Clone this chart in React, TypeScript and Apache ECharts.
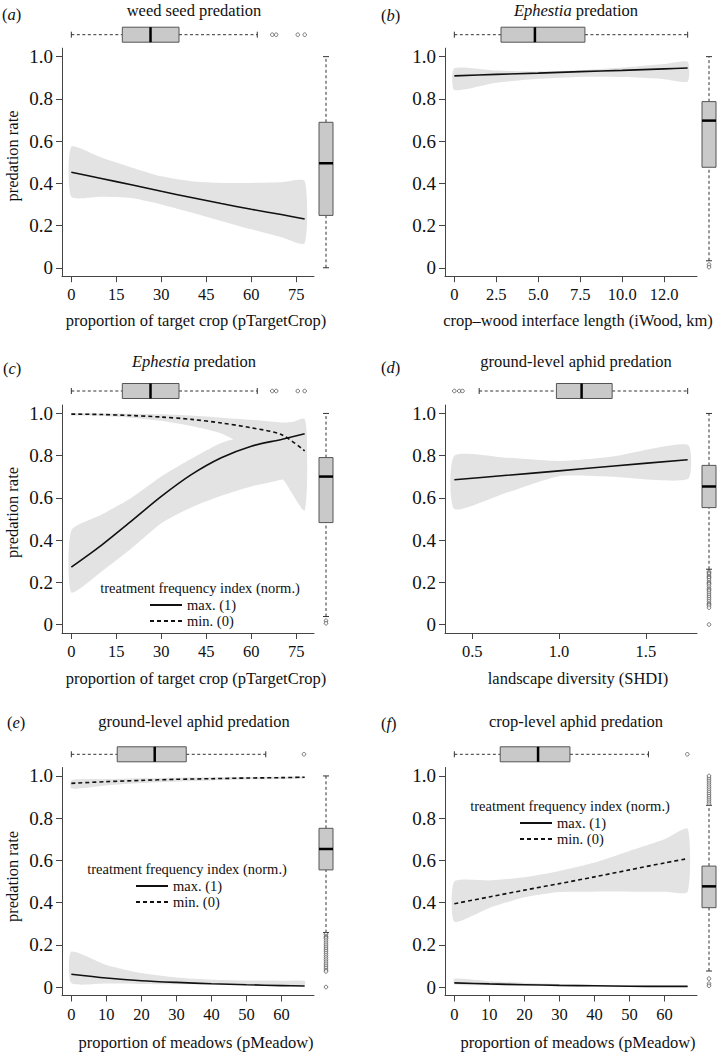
import React, { useEffect, useRef } from "react";
import * as echarts from "echarts";

const FONT = "'Liberation Serif', 'DejaVu Serif', 'Times New Roman', serif";

// ---------- shared y axis ----------
const yTicks = [0, 0.2, 0.4, 0.6, 0.8, 1.0];
const yTickLabels = ["0", "0.2", "0.4", "0.6", "0.8", "1.0"];
const yDataRange: [number, number] = [0, 1];

// ---------- panel a : weed seed predation ----------
const aTicks = [0, 15, 30, 45, 60, 75];
const aTickLabels = ["0", "15", "30", "45", "60", "75"];
const aX = [0, 10, 20, 30, 40, 50, 60, 70, 77.8];
const aFit = [0.452, 0.423, 0.393, 0.362, 0.333, 0.304, 0.277, 0.252, 0.231];
const aUpper = [0.573, 0.522, 0.475, 0.433, 0.41, 0.402, 0.402, 0.405, 0.411];
const aLower = [0.336, 0.336, 0.33, 0.3, 0.262, 0.222, 0.182, 0.145, 0.116];
const aTopBox = [0, 17, 26.4, 35.9, 62];
const aTopOut = [67, 68.3, 75.5, 77.8];
const aRightBox = [0, 0.248, 0.495, 0.689, 1.0];
const aRightOut: number[] = [];

// ---------- panel b : Ephestia predation vs iWood ----------
const bTicks = [0, 2.5, 5, 7.5, 10, 12.5];
const bTickLabels = ["0", "2.5", "5.0", "7.5", "10.0", "12.0"];
const bX = [0, 2.5, 5, 7.5, 10, 12.5, 13.9];
const bFit = [0.909, 0.916, 0.922, 0.929, 0.935, 0.942, 0.946];
const bUpper = [0.945, 0.934, 0.93, 0.935, 0.948, 0.965, 0.976];
const bLower = [0.842, 0.876, 0.895, 0.904, 0.903, 0.893, 0.882];
const bTopBox = [0, 2.78, 4.8, 7.78, 13.9];
const bTopOut: number[] = [];
const bRightBox = [0.033, 0.476, 0.697, 0.787, 1.0];
const bRightOut = [0.015, 0.003];

// ---------- panel c : Ephestia predation vs pTargetCrop ----------
const cX = [0, 10, 20, 30, 40, 50, 60, 70, 77.8];
const cFitMax = [0.272, 0.375, 0.49, 0.607, 0.71, 0.79, 0.845, 0.877, 0.904];
const cMaxUpper = [0.446, 0.52, 0.6, 0.701, 0.785, 0.86, 0.9, 0.935, 0.973];
const cMaxLower = [0.152, 0.25, 0.36, 0.48, 0.555, 0.61, 0.654, 0.686, 0.72];
const cFitMin = [0.997, 0.995, 0.99, 0.983, 0.972, 0.955, 0.932, 0.9, 0.823];
const cMinUpper = [1.0, 1.0, 0.999, 0.996, 0.99, 0.98, 0.97, 0.957, 0.95];
const cMinLower = [0.99, 0.988, 0.98, 0.965, 0.94, 0.905, 0.83, 0.7, 0.54];
const cTopBox = [0, 17, 26.4, 35.9, 62];
const cTopOut = [67, 68.3, 75.5, 77.8];
const cRightBox = [0.038, 0.483, 0.701, 0.791, 1.0];
const cRightOut = [0.018, 0.006];

// ---------- panel d : ground-level aphid predation vs SHDI ----------
const dTicks = [0.5, 1.0, 1.5];
const dTickLabels = ["0.5", "1.0", "1.5"];
const dX = [0.397, 0.7, 1.0, 1.3, 1.741];
const dFit = [0.686, 0.707, 0.728, 0.75, 0.781];
const dUpper = [0.8, 0.79, 0.775, 0.795, 0.852];
const dLower = [0.547, 0.625, 0.703, 0.7, 0.689];
const dTopBox = [0.54, 0.985, 1.13, 1.306, 1.741];
const dTopOut = [0.397, 0.425, 0.444];
const dRightBox = [0.262, 0.554, 0.654, 0.754, 1.0];
const dRightOut = [0.25, 0.245, 0.24, 0.23, 0.225, 0.22, 0.21, 0.2, 0.195, 0.19, 0.18, 0.17, 0.165, 0.16, 0.15, 0.14, 0.13, 0.12, 0.11, 0.1, 0.095, 0.09, 0.08, 0];

// ---------- panel e : ground-level aphid predation vs pMeadow ----------
const meadowTicks = [0, 10, 20, 30, 40, 50, 60];
const meadowTickLabels = ["0", "10", "20", "30", "40", "50", "60"];
const eX = [0, 10, 20, 30, 40, 50, 60, 66.6];
const eFitMax = [0.061, 0.043, 0.03, 0.022, 0.016, 0.011, 0.007, 0.005];
const eMaxUpper = [0.168, 0.105, 0.066, 0.045, 0.035, 0.031, 0.03, 0.03];
const eMaxLower = [0.019, 0.017, 0.015, 0.013, 0.012, 0.011, 0.01, 0.01];
const eFitMin = [0.965, 0.973, 0.979, 0.984, 0.987, 0.99, 0.992, 0.994];
const eMinUpper = [0.98, 0.985, 0.989, 0.992, 0.994, 0.995, 0.996, 0.997];
const eMinLower = [0.94, 0.955, 0.966, 0.974, 0.979, 0.983, 0.986, 0.988];
const eTopBox = [0, 13.1, 23.8, 32.8, 55.5];
const eTopOut = [66.4];
const eRightBox = [0.258, 0.555, 0.654, 0.752, 1.0];
const eRightOut = [0.25, 0.24, 0.235, 0.23, 0.22, 0.21, 0.2, 0.19, 0.18, 0.17, 0.16, 0.15, 0.14, 0.13, 0.12, 0.11, 0.1, 0.09, 0.08, 0.074, 0];

// ---------- panel f : crop-level aphid predation vs pMeadow ----------
const fX = [0, 10, 20, 30, 40, 50, 60, 66.6];
const fFitMax = [0.02, 0.015, 0.011, 0.008, 0.006, 0.004, 0.003, 0.003];
const fMaxUpper = [0.04, 0.028, 0.02, 0.014, 0.01, 0.008, 0.006, 0.005];
const fMaxLower = [0.012, 0.009, 0.007, 0.005, 0.004, 0.003, 0.002, 0.002];
const fFitMin = [0.395, 0.427, 0.459, 0.49, 0.522, 0.555, 0.588, 0.608];
const fMinUpper = [0.5, 0.505, 0.52, 0.55, 0.59, 0.645, 0.7, 0.75];
const fMinLower = [0.31, 0.375, 0.425, 0.45, 0.452, 0.452, 0.452, 0.452];
const fTopBox = [0, 13.1, 23.9, 33, 55.4];
const fTopOut = [66.5];
const fRightBox = [0.076, 0.376, 0.477, 0.573, 0.861];
const fRightOut = [0.87, 0.88, 0.89, 0.9, 0.91, 0.92, 0.93, 0.94, 0.95, 0.96, 0.97, 0.98, 0.99, 1.0, 0.04, 0.016, 0.006];

const legendNames = ["max. (1)", "min. (0)"];
const legendTitle = "treatment frequency index (norm.)";

// ---------- layout ----------
const COL_LEFT = [62, 445];
const PLOT_W = 252;
const ROW_TOP = [48.2, 405, 767.5];
const PLOT_H = 228;
const TOPBOX_Y = [34.7, 391, 754.3];
const RIGHTBOX_X = [326, 709];
const TITLE_Y = [10, 361, 721];
const TITLE_X = [194, 576];
const XTITLE_Y = [320, 678, 1042];
const XTITLE_X = [196, 578];
const YTITLE_Y = [156, 512.5, 876.5];

const BAND = "#e3e3e3";
const BOXFILL = "#c9c9c9";
const AXIS = "#444";
const INK = "#111";

type Curve = { name: string; x: number[]; fit: number[]; upper: number[]; lower: number[]; dashed: boolean };
type Panel = {
  letter: string; letterX: number; letterY: number;
  title: string; col: number; row: number;
  xRange: [number, number]; xTicks: number[]; xTickLabels: string[]; xTitle: string;
  curves: Curve[];
  topBox: number[]; topOut: number[]; rightBox: number[]; rightOut: number[];
  legend?: { x: number; y: number; left: number };
};

const panels: Panel[] = [
  {
    letter: "a", letterX: 2, letterY: 14, title: "weed seed predation", col: 0, row: 0,
    xRange: [0, 77.8], xTicks: aTicks, xTickLabels: aTickLabels, xTitle: "proportion of target crop (pTargetCrop)",
    curves: [{ name: "weed", x: aX, fit: aFit, upper: aUpper, lower: aLower, dashed: false }],
    topBox: aTopBox, topOut: aTopOut, rightBox: aRightBox, rightOut: aRightOut,
  },
  {
    letter: "b", letterX: 381, letterY: 15, title: "{i|Ephestia} predation", col: 1, row: 0,
    xRange: [0, 13.9], xTicks: bTicks, xTickLabels: bTickLabels, xTitle: "crop\u2013wood interface length (iWood, km)",
    curves: [{ name: "ephestiaWood", x: bX, fit: bFit, upper: bUpper, lower: bLower, dashed: false }],
    topBox: bTopBox, topOut: bTopOut, rightBox: bRightBox, rightOut: bRightOut,
  },
  {
    letter: "c", letterX: 3, letterY: 368, title: "{i|Ephestia} predation", col: 0, row: 1,
    xRange: [0, 77.8], xTicks: aTicks, xTickLabels: aTickLabels, xTitle: "proportion of target crop (pTargetCrop)",
    curves: [
      { name: legendNames[0], x: cX, fit: cFitMax, upper: cMaxUpper, lower: cMaxLower, dashed: false },
      { name: legendNames[1], x: cX, fit: cFitMin, upper: cMinUpper, lower: cMinLower, dashed: true },
    ],
    topBox: cTopBox, topOut: cTopOut, rightBox: cRightBox, rightOut: cRightOut,
    legend: { x: 200, y: 588, left: 149 },
  },
  {
    letter: "d", letterX: 381, letterY: 367, title: "ground-level aphid predation", col: 1, row: 1,
    xRange: [0.397, 1.741], xTicks: dTicks, xTickLabels: dTickLabels, xTitle: "landscape diversity (SHDI)",
    curves: [{ name: "groundShdi", x: dX, fit: dFit, upper: dUpper, lower: dLower, dashed: false }],
    topBox: dTopBox, topOut: dTopOut, rightBox: dRightBox, rightOut: dRightOut,
  },
  {
    letter: "e", letterX: 7, letterY: 722, title: "ground-level aphid predation", col: 0, row: 2,
    xRange: [0, 66.6], xTicks: meadowTicks, xTickLabels: meadowTickLabels, xTitle: "proportion of meadows (pMeadow)",
    curves: [
      { name: legendNames[0], x: eX, fit: eFitMax, upper: eMaxUpper, lower: eMaxLower, dashed: false },
      { name: legendNames[1], x: eX, fit: eFitMin, upper: eMinUpper, lower: eMinLower, dashed: true },
    ],
    topBox: eTopBox, topOut: eTopOut, rightBox: eRightBox, rightOut: eRightOut,
    legend: { x: 187, y: 869, left: 135 },
  },
  {
    letter: "f", letterX: 381, letterY: 723, title: "crop-level aphid predation", col: 1, row: 2,
    xRange: [0, 66.6], xTicks: meadowTicks, xTickLabels: meadowTickLabels, xTitle: "proportion of meadows (pMeadow)",
    curves: [
      { name: legendNames[0], x: fX, fit: fFitMax, upper: fMaxUpper, lower: fMaxLower, dashed: false },
      { name: legendNames[1], x: fX, fit: fFitMin, upper: fMinUpper, lower: fMinLower, dashed: true },
    ],
    topBox: fTopBox, topOut: fTopOut, rightBox: fRightBox, rightOut: fRightOut,
    legend: { x: 570, y: 806, left: 519 },
  },
];

const WHISKER = { stroke: "#333", lineWidth: 1, lineDash: [3, 2.5] };
const CAP = { stroke: "#333", lineWidth: 1 };

function hBox(api: any, s: number[]) {
  const yc = api.coord([s[2], 0.5])[1];
  const px = (v: number) => api.coord([v, 0.5])[0];
  const h = 7.5, c = 3;
  return {
    type: "group",
    children: [
      { type: "line", shape: { x1: px(s[0]), y1: yc, x2: px(s[1]), y2: yc }, style: WHISKER },
      { type: "line", shape: { x1: px(s[3]), y1: yc, x2: px(s[4]), y2: yc }, style: WHISKER },
      { type: "line", shape: { x1: px(s[0]), y1: yc - c, x2: px(s[0]), y2: yc + c }, style: CAP },
      { type: "line", shape: { x1: px(s[4]), y1: yc - c, x2: px(s[4]), y2: yc + c }, style: CAP },
      { type: "rect", shape: { x: px(s[1]), y: yc - h, width: px(s[3]) - px(s[1]), height: 2 * h }, style: { fill: BOXFILL, stroke: "#555", lineWidth: 1 } },
      { type: "line", shape: { x1: px(s[2]), y1: yc - h, x2: px(s[2]), y2: yc + h }, style: { stroke: "#000", lineWidth: 2.5 } },
    ],
  };
}

function vBox(api: any, s: number[]) {
  const xc = api.coord([0.5, s[2]])[0];
  const py = (v: number) => api.coord([0.5, v])[1];
  const w = 7, c = 3;
  return {
    type: "group",
    children: [
      { type: "line", shape: { x1: xc, y1: py(s[0]), x2: xc, y2: py(s[1]) }, style: WHISKER },
      { type: "line", shape: { x1: xc, y1: py(s[3]), x2: xc, y2: py(s[4]) }, style: WHISKER },
      { type: "line", shape: { x1: xc - c, y1: py(s[0]), x2: xc + c, y2: py(s[0]) }, style: CAP },
      { type: "line", shape: { x1: xc - c, y1: py(s[4]), x2: xc + c, y2: py(s[4]) }, style: CAP },
      { type: "rect", shape: { x: xc - w, y: py(s[3]), width: 2 * w, height: py(s[1]) - py(s[3]) }, style: { fill: BOXFILL, stroke: "#555", lineWidth: 1 } },
      { type: "line", shape: { x1: xc - w, y1: py(s[2]), x2: xc + w, y2: py(s[2]) }, style: { stroke: "#000", lineWidth: 2.5 } },
    ],
  };
}

function textEl(text: string, x: number, y: number, size: number, extra: any = {}, align = "center") {
  return {
    type: "text", x, y, silent: true, ...extra,
    style: {
      text, fontFamily: FONT, fontSize: size, fill: INK, align, verticalAlign: "middle",
      rich: {
        i: { fontFamily: FONT, fontSize: size, fontStyle: "italic", fill: INK },
      },
    },
  };
}

function buildOption() {
  const grids: any[] = [], xAxes: any[] = [], yAxes: any[] = [], series: any[] = [], graphics: any[] = [], legends: any[] = [];
  const ypad = (yDataRange[1] - yDataRange[0]) * 0.04;
  const ymin = yDataRange[0] - ypad, ymax = yDataRange[1] + ypad;

  panels.forEach((p) => {
    const gi = grids.length;
    const left = COL_LEFT[p.col], top = ROW_TOP[p.row];
    const xpad = (p.xRange[1] - p.xRange[0]) * 0.04;
    const xmin = p.xRange[0] - xpad, xmax = p.xRange[1] + xpad;

    grids.push({ left, top, width: PLOT_W, height: PLOT_H });
    grids.push({ left, top: TOPBOX_Y[p.row] - 7.5, width: PLOT_W, height: 15 });
    grids.push({ left: RIGHTBOX_X[p.col] - 7, top, width: 14, height: PLOT_H });

    xAxes.push({
      type: "value", gridIndex: gi, min: xmin, max: xmax,
      axisLine: { show: true, onZero: false, lineStyle: { color: AXIS, width: 1 } },
      axisTick: { show: true, length: 6, customValues: p.xTicks, lineStyle: { color: AXIS } },
      axisLabel: {
        fontFamily: FONT, fontSize: 16.5, color: INK, margin: 10, customValues: p.xTicks,
        formatter: (v: number) => { const i = p.xTicks.findIndex((t) => Math.abs(t - v) < 1e-9); return i >= 0 ? p.xTickLabels[i] : ""; },
      },
      splitLine: { show: false },
    });
    xAxes.push({ type: "value", gridIndex: gi + 1, min: xmin, max: xmax, show: false });
    xAxes.push({ type: "value", gridIndex: gi + 2, min: 0, max: 1, show: false });

    yAxes.push({
      type: "value", gridIndex: gi, min: ymin, max: ymax,
      axisLine: { show: true, onZero: false, lineStyle: { color: AXIS, width: 1 } },
      axisTick: { show: true, length: 6, customValues: yTicks, lineStyle: { color: AXIS } },
      axisLabel: {
        fontFamily: FONT, fontSize: 19, color: INK, margin: 9, customValues: yTicks,
        formatter: (v: number) => { const i = yTicks.findIndex((t) => Math.abs(t - v) < 1e-9); return i >= 0 ? yTickLabels[i] : ""; },
      },
      splitLine: { show: false },
    });
    yAxes.push({ type: "value", gridIndex: gi + 1, min: 0, max: 1, show: false });
    yAxes.push({ type: "value", gridIndex: gi + 2, min: ymin, max: ymax, show: false });

    // confidence bands
    p.curves.forEach((c) => {
      series.push({
        type: "custom", xAxisIndex: gi, yAxisIndex: gi, silent: true, z: 1,
        data: [[c.x[0], c.fit[0]]],
        renderItem: (_params: any, api: any) => {
          const pts = c.x.map((x, i) => api.coord([x, c.upper[i]]));
          for (let i = c.x.length - 1; i >= 0; i--) pts.push(api.coord([c.x[i], c.lower[i]]));
          return { type: "polygon", shape: { points: pts, smooth: 0.2 }, style: { fill: BAND } };
        },
      });
    });
    // fitted lines
    p.curves.forEach((c) => {
      series.push({
        type: "line", name: c.name, xAxisIndex: gi, yAxisIndex: gi, silent: true, z: 3,
        data: c.x.map((x, i) => [x, c.fit[i]]),
        symbol: "none", smooth: 0.3,
        itemStyle: { color: INK },
        lineStyle: { color: INK, width: 1.6, type: c.dashed ? [4, 3] : "solid" },
      });
    });
    // top boxplot
    series.push({
      type: "custom", xAxisIndex: gi + 1, yAxisIndex: gi + 1, silent: true,
      data: [[p.topBox[2], 0.5]],
      renderItem: (_params: any, api: any) => hBox(api, p.topBox),
    });
    if (p.topOut.length) series.push({
      type: "scatter", xAxisIndex: gi + 1, yAxisIndex: gi + 1, silent: true,
      data: p.topOut.map((v) => [v, 0.5]), symbol: "circle", symbolSize: 3.6,
      itemStyle: { color: "#fff", borderColor: "#333", borderWidth: 0.8 },
    });
    // right boxplot
    series.push({
      type: "custom", xAxisIndex: gi + 2, yAxisIndex: gi + 2, silent: true,
      data: [[0.5, p.rightBox[2]]],
      renderItem: (_params: any, api: any) => vBox(api, p.rightBox),
    });
    if (p.rightOut.length) series.push({
      type: "scatter", xAxisIndex: gi + 2, yAxisIndex: gi + 2, silent: true,
      data: p.rightOut.map((v) => [0.5, v]), symbol: "circle", symbolSize: 3.6,
      itemStyle: { color: "#fff", borderColor: "#333", borderWidth: 0.8 },
    });

    // texts
    graphics.push(textEl(p.title, TITLE_X[p.col], TITLE_Y[p.row], 16.5));
    graphics.push(textEl("({i|" + p.letter + "})", p.letterX, p.letterY, 16.5, {}, "left"));
    graphics.push(textEl(p.xTitle, XTITLE_X[p.col], XTITLE_Y[p.row], 16.5));
    if (p.col === 0) graphics.push(textEl("predation rate", 12, YTITLE_Y[p.row], 16.5, { rotation: Math.PI / 2 }));

    if (p.legend) {
      graphics.push(textEl(legendTitle, p.legend.x, p.legend.y, 14.5));
      legends.push({
        data: legendNames, orient: "vertical", left: p.legend.left, top: p.legend.y + 9.5,
        itemWidth: 32, itemHeight: 14, itemGap: 1, padding: 0, selectedMode: false,
        itemStyle: { opacity: 0 },
        textStyle: { fontFamily: FONT, fontSize: 14.5, color: INK },
      });
    }
  });

  return {
    animation: false,
    backgroundColor: "#fff",
    grid: grids,
    xAxis: xAxes,
    yAxis: yAxes,
    legend: legends,
    series,
    graphic: { elements: graphics },
  };
}

export default function App() {
  const ref = useRef<HTMLDivElement>(null);
  useEffect(() => {
    if (!ref.current) return;
    const chart = echarts.init(ref.current, undefined, { renderer: "svg" });
    chart.setOption(buildOption() as any);
    return () => chart.dispose();
  }, []);
  return <div ref={ref} style={{ position: "absolute", left: 0, top: 0, width: 718, height: 1053, background: "#fff" }} />;
}
